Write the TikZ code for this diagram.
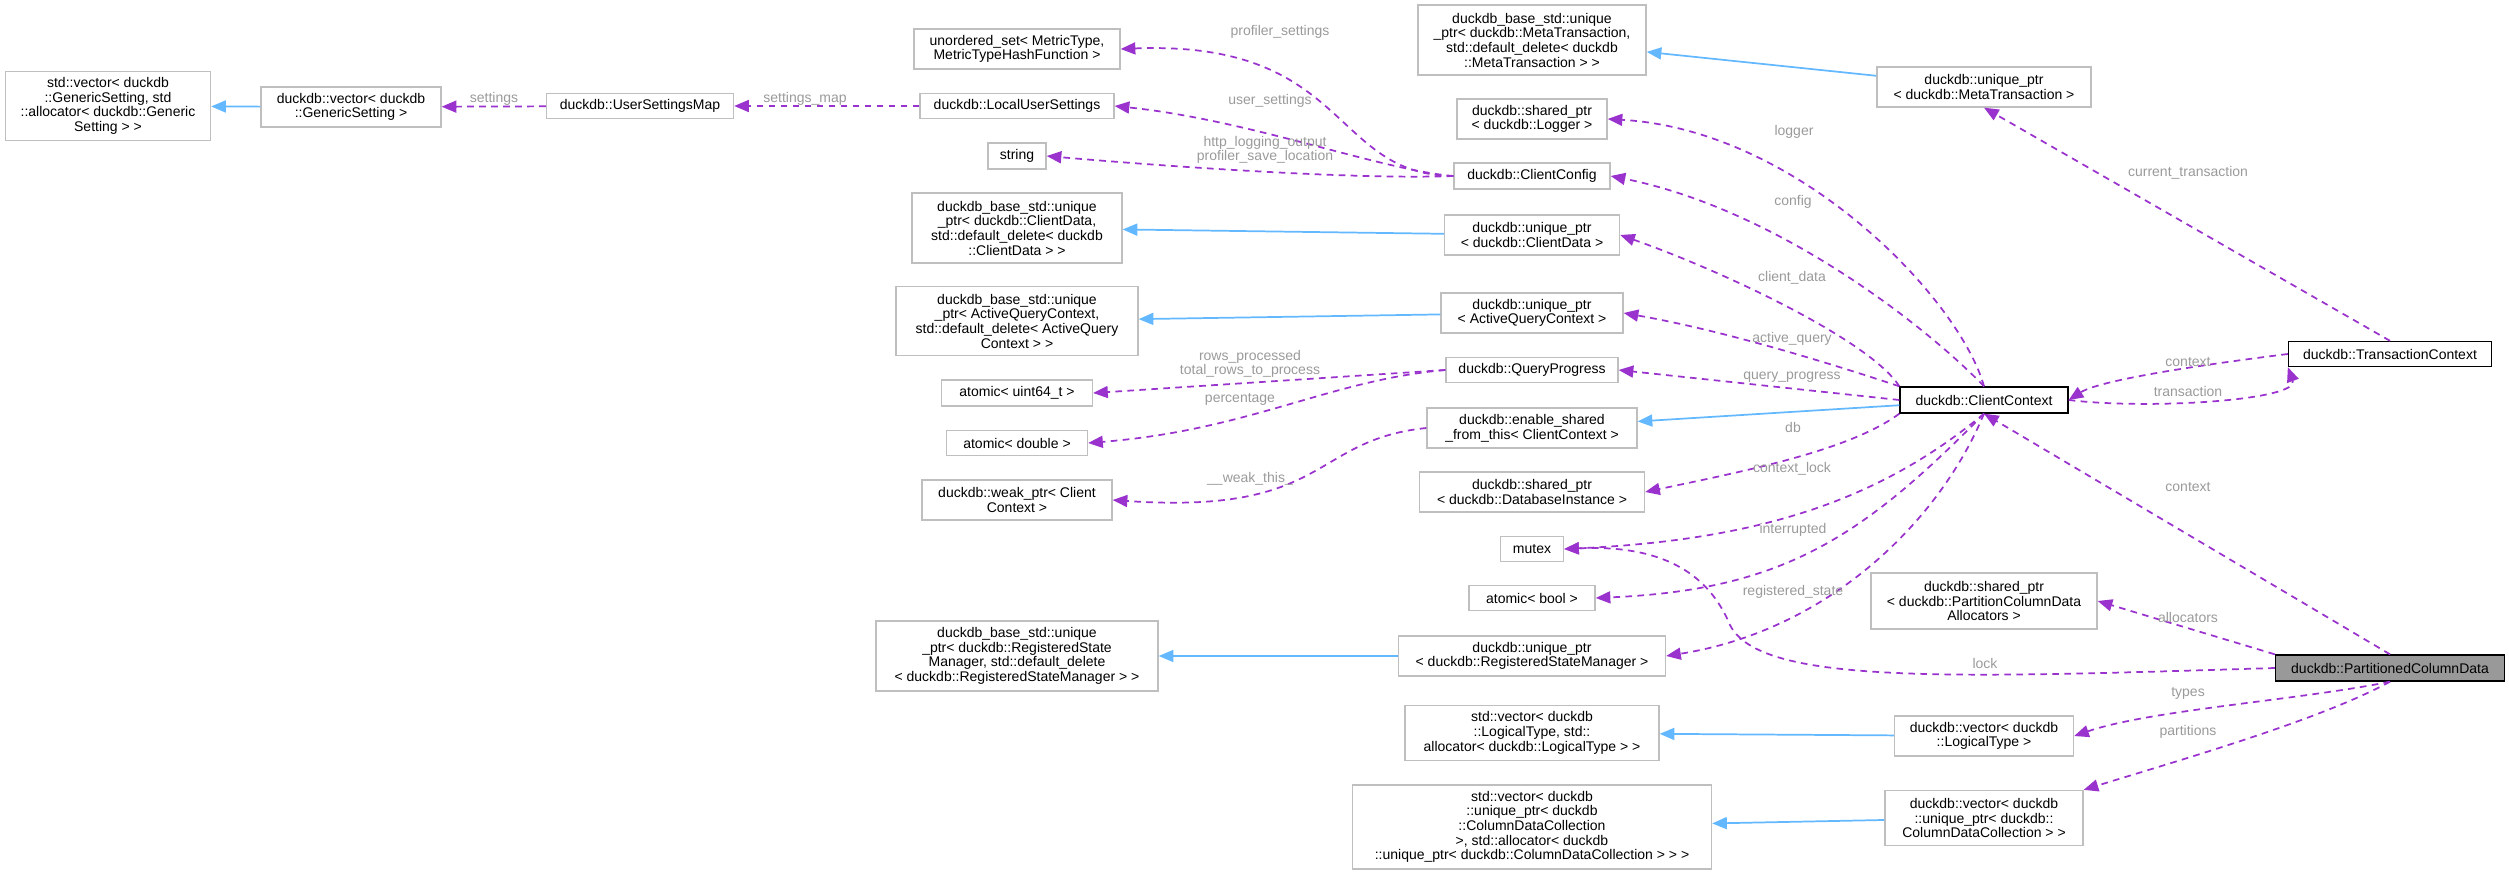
\documentclass[tikz,border=0pt]{standalone}
\usepackage{fontspec}
\setmainfont{Liberation Sans}
\usetikzlibrary{arrows.meta}
\definecolor{inhcol}{HTML}{63B8FF}
\definecolor{usecol}{HTML}{9A32CD}
\definecolor{lblcol}{HTML}{9A9A9A}
\definecolor{boxcol}{HTML}{BFBFBF}
\tikzset{
  box/.style={draw=boxcol, line width=1pt, align=center, inner sep=2pt, font=\fontsize{10.5}{11}\selectfont},
  mainbox/.style={box, draw=black},
  sz/.style 2 args={minimum width=#1*0.75pt, minimum height=#2*0.75pt},
  inh/.style={draw=inhcol, line width=1.3pt, -{Triangle[length=11pt,width=9pt]}},
  use/.style={draw=usecol, line width=1.3pt, dash pattern=on 5pt off 4pt, -{Triangle[length=11pt,width=9pt]}},
  lbl/.style={text=lblcol, align=center, inner sep=0pt, font=\fontsize{10.5}{11}\selectfont},
}

\begin{document}
\begin{tikzpicture}[x=0.75pt,y=0.75pt,yscale=-1,xscale=1]
\useasboundingbox (0,0) rectangle (2509,874);

% left part
\node[box, sz={205}{69}] (stdvecGen) at (108,106) {std::vector< duckdb\\::GenericSetting, std\\::allocator< duckdb::Generic\\Setting > >};
\node[box, sz={180}{40}] (vecGen) at (351,107) {duckdb::vector< duckdb\\::GenericSetting >};
\node[box, sz={187}{25}] (userMap) at (640,106) {duckdb::UserSettingsMap};

% second column
\node[box, sz={206}{40}] (metricSet) at (1017,49) {unordered\_set< MetricType,\\MetricTypeHashFunction >};
\node[box, sz={194}{25}] (localSet) at (1017,106) {duckdb::LocalUserSettings};
\node[box, sz={58}{26}] (str) at (1017,156) {string};
\node[box, sz={210}{70}] (baseCData) at (1017,228) {duckdb\_base\_std::unique\\\_ptr< duckdb::ClientData,\\std::default\_delete< duckdb\\::ClientData > >};
\node[box, sz={242}{69}] (baseAQC) at (1017,321) {duckdb\_base\_std::unique\\\_ptr< ActiveQueryContext,\\std::default\_delete< ActiveQuery\\Context > >};
\node[box, sz={151}{26}] (atomU64) at (1017,393) {atomic< uint64\_t >};
\node[box, sz={141}{25}] (atomDbl) at (1017,443) {atomic< double >};
\node[box, sz={190}{40}] (weakCC) at (1017,500) {duckdb::weak\_ptr< Client\\Context >};
\node[box, sz={282}{70}] (baseRSM) at (1017,656) {duckdb\_base\_std::unique\\\_ptr< duckdb::RegisteredState\\Manager, std::default\_delete\\< duckdb::RegisteredStateManager > >};

% third column
\node[box, sz={228}{70}] (baseMeta) at (1532,40) {duckdb\_base\_std::unique\\\_ptr< duckdb::MetaTransaction,\\std::default\_delete< duckdb\\::MetaTransaction > >};
\node[box, sz={150}{40}] (logger) at (1532,119) {duckdb::shared\_ptr\\< duckdb::Logger >};
\node[box, sz={156}{26}] (cfg) at (1532,176) {duckdb::ClientConfig};
\node[box, sz={175}{40}] (uCData) at (1532,235) {duckdb::unique\_ptr\\< duckdb::ClientData >};
\node[box, sz={182}{40}] (uAQC) at (1532,313) {duckdb::unique\_ptr\\< ActiveQueryContext >};
\node[box, sz={172}{25}] (qprog) at (1532,370) {duckdb::QueryProgress};
\node[box, sz={210}{40}] (enShared) at (1532,428) {duckdb::enable\_shared\\\_from\_this< ClientContext >};
\node[box, sz={225}{40}] (dbInst) at (1532,492) {duckdb::shared\_ptr\\< duckdb::DatabaseInstance >};
\node[box, sz={63}{25}] (mtx) at (1532,549) {mutex};
\node[box, sz={126}{25}] (atomBool) at (1532,598) {atomic< bool >};
\node[box, sz={267}{40}] (uRSM) at (1532,656) {duckdb::unique\_ptr\\< duckdb::RegisteredStateManager >};
\node[box, sz={254}{55}] (stdvecLT) at (1532,733) {std::vector< duckdb\\::LogicalType, std::\\allocator< duckdb::LogicalType > >};
\node[box, sz={359}{84}] (stdvecCDC) at (1532,827) {std::vector< duckdb\\::unique\_ptr< duckdb\\::ColumnDataCollection\\ >, std::allocator< duckdb\\::unique\_ptr< duckdb::ColumnDataCollection > > >};

% fourth column
\node[box, sz={214}{40}] (uMeta) at (1984,87) {duckdb::unique\_ptr\\< duckdb::MetaTransaction >};
\node[mainbox, sz={168}{26}] (clientCtx) at (1984,400) {duckdb::ClientContext};
\node[box, sz={226}{56}] (pcdAlloc) at (1984,601) {duckdb::shared\_ptr\\< duckdb::PartitionColumnData\\Allocators >};
\node[box, sz={179}{40}] (vecLT) at (1984,736) {duckdb::vector< duckdb\\::LogicalType >};
\node[box, sz={198}{55}] (vecCDC) at (1984,818) {duckdb::vector< duckdb\\::unique\_ptr< duckdb::\\ColumnDataCollection > >};

% right column
\node[mainbox, sz={203}{25}] (txCtx) at (2390,354) {duckdb::TransactionContext};
\node[mainbox, fill=gray!80, sz={229}{26}] (pcd) at (2390,668) {duckdb::PartitionedColumnData};

% inheritance
\draw[inh] (vecGen) -- (stdvecGen);
\draw[inh] (uMeta) -- (baseMeta);
\draw[inh] (uCData) -- (baseCData);
\draw[inh] (uAQC) -- (baseAQC);
\draw[inh] (clientCtx) -- (enShared);
\draw[inh] (uRSM) -- (baseRSM);
\draw[inh] (vecLT) -- (stdvecLT);
\draw[inh] (vecCDC) -- (stdvecCDC);

% usage
\draw[use] (userMap) -- (vecGen);
\draw[use] (localSet) -- (userMap);
\draw[use] (cfg.west) .. controls (1330,175) and (1350,40) .. (metricSet.east);
\draw[use] (cfg.west) .. controls (1380,170) and (1250,120) .. (localSet.east);
\draw[use] (cfg.west) .. controls (1350,180) and (1150,165) .. (str.east);
\draw[use] (qprog.west) -- (atomU64.east);
\draw[use] (qprog.west) .. controls (1330,380) and (1250,430) .. (atomDbl.east);
\draw[use] (enShared.west) .. controls (1310,440) and (1330,515) .. (weakCC.east);
\draw[use] (clientCtx.north) .. controls (1960,300) and (1800,130) .. (logger.east);
\draw[use] (clientCtx.north) .. controls (1930,330) and (1780,210) .. (cfg.east);
\draw[use] (clientCtx.north west) .. controls (1870,340) and (1720,270) .. (uCData.east);
\draw[use] (clientCtx.north west) .. controls (1820,360) and (1720,330) .. (uAQC.east);
\draw[use] (clientCtx.west) -- (qprog.east);
\draw[use] (clientCtx.south west) .. controls (1850,450) and (1750,470) .. (dbInst.east);
\draw[use] (clientCtx.south) .. controls (1880,500) and (1760,540) .. (mtx.east);
\draw[use] (clientCtx.south) .. controls (1860,540) and (1780,590) .. (atomBool.east);
\draw[use] (clientCtx.south) .. controls (1940,520) and (1830,630) .. (uRSM.east);
\draw[use] (clientCtx.east) .. controls (2150,410) and (2300,400) .. (txCtx.south west);
\draw[use] (txCtx.west) .. controls (2200,365) and (2100,380) .. (clientCtx.east);
\draw[use] (txCtx.north) -- (uMeta.south);
\draw[use] (pcd.north) -- (clientCtx.south);
\draw[use] (pcd.north west) -- (pcdAlloc.east);
\draw[use] (pcd.west) .. controls (1950,678) and (1760,685) .. (1730,625) .. controls (1705,565) and (1650,545) .. (mtx.east);
\draw[use] (pcd.south) .. controls (2300,700) and (2150,710) .. (vecLT.east);
\draw[use] (pcd.south) .. controls (2320,720) and (2180,760) .. (vecCDC.north east);

% labels
\node[lbl] (lSettings) at (494,99) {settings};
\node[lbl] (lSettingsMap) at (805,99) {settings\_map};
\node[lbl] (lProfSet) at (1280,32) {profiler\_settings};
\node[lbl] (lUserSet) at (1270,101) {user\_settings};
\node[lbl] (lHttp) at (1265,150) {http\_logging\_output\\profiler\_save\_location};
\node[lbl] (lRows) at (1250,364) {rows\_processed\\total\_rows\_to\_process};
\node[lbl] (lPerc) at (1240,399) {percentage};
\node[lbl] (lWeak) at (1250,479) {\_\_weak\_this\_};
\node[lbl] (lLogger) at (1794,132) {logger};
\node[lbl] (lConfig) at (1793,202) {config};
\node[lbl] (lCData) at (1792,278) {client\_data};
\node[lbl] (lActive) at (1792,339) {active\_query};
\node[lbl] (lQProg) at (1792,377) {query\_progress};
\node[lbl] (lDb) at (1793,427) {db};
\node[lbl] (lCtxLock) at (1792,469) {context\_lock};
\node[lbl] (lInterr) at (1793,530) {interrupted};
\node[lbl] (lRegState) at (1793,592) {registered\_state};
\node[lbl] (lLock) at (1985,663) {lock};
\node[lbl] (lCurTx) at (2188,173) {current\_transaction};
\node[lbl] (lCtxA) at (2188,362) {context};
\node[lbl] (lTx) at (2188,391) {transaction};
\node[lbl] (lCtxB) at (2188,487) {context};
\node[lbl] (lAlloc) at (2188,617) {allocators};
\node[lbl] (lTypes) at (2188,693) {types};
\node[lbl] (lParts) at (2188,732) {partitions};
\end{tikzpicture}
\end{document}
